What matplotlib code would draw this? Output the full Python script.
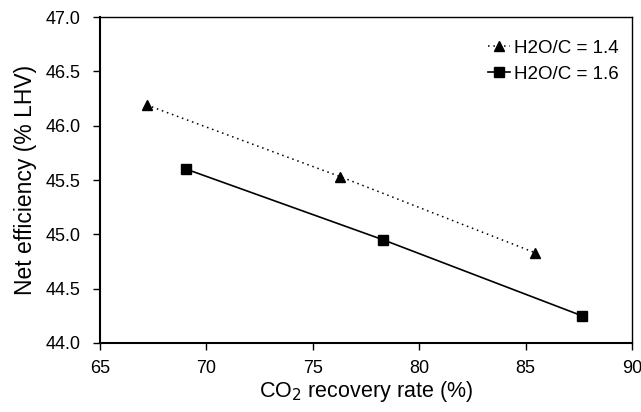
import matplotlib
matplotlib.use("Agg")
import matplotlib.pyplot as plt

# CO2 recovery rate (%) and net efficiency (% LHV)
recovery_14 = [67.2, 76.3, 85.45]
efficiency_14 = [46.19, 45.53, 44.83]

recovery_16 = [69.05, 78.3, 87.65]
efficiency_16 = [45.60, 44.95, 44.25]

plt.rcParams['font.family'] = ['Liberation Sans', 'DejaVu Sans']

fig = plt.figure(figsize=(6.41, 4.12), dpi=100)
ax = fig.add_axes([0.156, 0.1675, 0.83, 0.7912])

ax.plot(recovery_14, efficiency_14, color='black', linestyle=(0, (1, 2.5)),
        linewidth=1.1, marker='^', markersize=6.5, label='H2O/C = 1.4')
ax.plot(recovery_16, efficiency_16, color='black', linestyle='-',
        linewidth=1.2, marker='s', markersize=6.5, label='H2O/C = 1.6')

ax.set_xlim(65, 90)
ax.set_ylim(44.0, 47.0)
ax.set_xticks([65, 70, 75, 80, 85, 90])
ax.set_yticks([44.0, 44.5, 45.0, 45.5, 46.0, 46.5, 47.0])
ax.set_yticklabels(['%.1f' % v for v in ax.get_yticks()])

for s in ax.spines.values():
    s.set_linewidth(1.0)
ax.spines['left'].set_linewidth(1.5)
ax.spines['bottom'].set_linewidth(1.5)

ax.tick_params(axis='both', direction='out', length=5, width=1.0,
               labelsize=13)
ax.tick_params(axis='y', pad=9)
ax.tick_params(axis='x', pad=7)

ax.set_xlabel('CO$_2$ recovery rate (%)', fontsize=15.5, labelpad=2)
ax.set_ylabel('Net efficiency (% LHV)', fontsize=16.5, labelpad=6)

ax.legend(loc='upper right', bbox_to_anchor=(1.0, 0.97), frameon=False,
          fontsize=13.5, handlelength=1.2, handletextpad=0.2,
          borderaxespad=0.3, labelspacing=0.45)

fig.savefig('out.png', dpi=100)
